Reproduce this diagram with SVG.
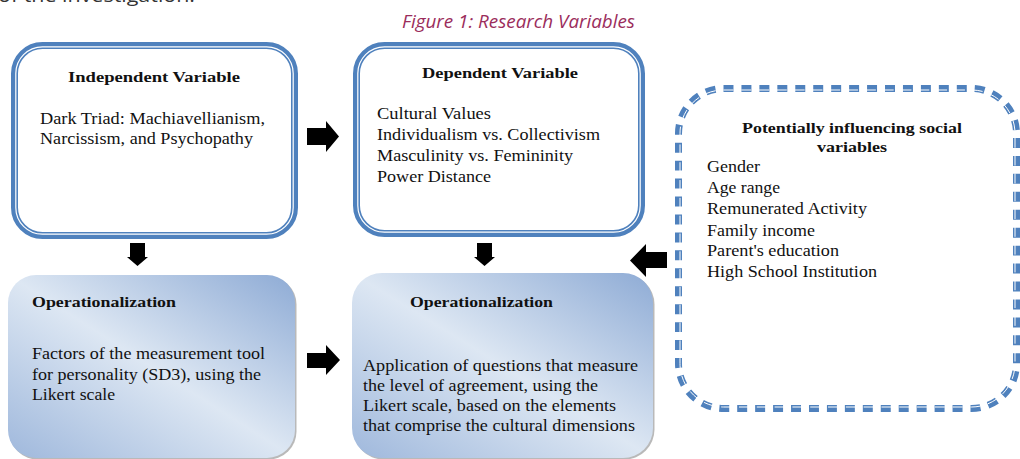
<svg xmlns="http://www.w3.org/2000/svg" width="1020" height="459" viewBox="0 0 1020 459">
<defs>
<linearGradient id="opGrad" x1="1" y1="0" x2="0" y2="1">
<stop offset="0" stop-color="#8eabd5"/>
<stop offset="0.5" stop-color="#dde7f3"/>
<stop offset="1" stop-color="#9fb8dc"/>
</linearGradient>
<style>
.frame{fill:#ffffff;stroke:#4f81bd;stroke-width:7}
.inner{fill:none;stroke:#ffffff;stroke-width:1.2}
.dash{fill:#ffffff;stroke:#4f81bd;stroke-width:7;stroke-dasharray:10 8}
.dashw{fill:none;stroke:#ffffff;stroke-width:1;stroke-dasharray:10 8}
.op{fill:url(#opGrad)}
.shadow{fill:#7f7f7f;opacity:0.55}
.t{font-family:"Liberation Serif","Times New Roman",serif;font-size:16px;fill:#111111}
.b{font-family:"Liberation Serif","Times New Roman",serif;font-size:15.5px;font-weight:bold;fill:#111111}
.cap{font-family:"Open Sans","Noto Sans",sans-serif;font-style:italic;font-size:18px;fill:#9b2d5c}
.top{font-family:"Open Sans","Noto Sans",sans-serif;font-size:19px;fill:#333333}
.arrow{fill:#000000}
</style>
</defs>
<rect x="0" y="0" width="1020" height="459" fill="#ffffff"/>
<text class="top" x="-2" y="2" textLength="197" lengthAdjust="spacingAndGlyphs">of the investigation.</text>
<text class="cap" x="402" y="28" textLength="233" lengthAdjust="spacingAndGlyphs">Figure 1: Research Variables</text>

<g id="node-independent">
<rect class="frame" x="14.5" y="45.5" width="280" height="190" rx="28"/>
<rect class="inner" x="15.8" y="46.8" width="277.4" height="187.4" rx="26.7"/>
<text class="b" x="68" y="82" textLength="172" lengthAdjust="spacingAndGlyphs">Independent Variable</text>
<text class="t" x="40" y="124" textLength="225" lengthAdjust="spacingAndGlyphs">Dark Triad: Machiavellianism,</text>
<text class="t" x="40" y="144" textLength="213" lengthAdjust="spacingAndGlyphs">Narcissism, and Psychopathy</text>
</g>

<g id="node-dependent">
<rect class="frame" x="356.5" y="45.5" width="285" height="188" rx="28"/>
<rect class="inner" x="357.8" y="46.8" width="282.4" height="185.4" rx="26.7"/>
<text class="b" x="422" y="78" textLength="156" lengthAdjust="spacingAndGlyphs">Dependent Variable</text>
<text class="t" x="377" y="119" textLength="114" lengthAdjust="spacingAndGlyphs">Cultural Values</text>
<text class="t" x="377" y="140" textLength="223" lengthAdjust="spacingAndGlyphs">Individualism vs. Collectivism</text>
<text class="t" x="377" y="161" textLength="196" lengthAdjust="spacingAndGlyphs">Masculinity vs. Femininity</text>
<text class="t" x="377" y="182" textLength="114" lengthAdjust="spacingAndGlyphs">Power Distance</text>
</g>

<g id="node-social">
<rect class="dash" x="678.5" y="88.5" width="338" height="320" rx="45" pathLength="1242"/>
<rect class="dashw" x="680" y="90" width="335" height="317" rx="43.5" pathLength="1242"/>
<text class="b" x="742" y="133" textLength="220" lengthAdjust="spacingAndGlyphs">Potentially influencing social</text>
<text class="b" x="817" y="152" textLength="70" lengthAdjust="spacingAndGlyphs">variables</text>
<text class="t" x="707" y="172" textLength="53" lengthAdjust="spacingAndGlyphs">Gender</text>
<text class="t" x="707" y="193" textLength="73" lengthAdjust="spacingAndGlyphs">Age range</text>
<text class="t" x="707" y="214" textLength="160" lengthAdjust="spacingAndGlyphs">Remunerated Activity</text>
<text class="t" x="707" y="236" textLength="108" lengthAdjust="spacingAndGlyphs">Family income</text>
<text class="t" x="707" y="256" textLength="132" lengthAdjust="spacingAndGlyphs">Parent's education</text>
<text class="t" x="707" y="277" textLength="170" lengthAdjust="spacingAndGlyphs">High School Institution</text>
</g>

<g id="node-op-personality">
<rect class="shadow" x="9.5" y="276.5" width="287" height="183" rx="28"/>
<rect class="op" x="8" y="275" width="287" height="183" rx="28"/>
<text class="b" x="32" y="307" textLength="144" lengthAdjust="spacingAndGlyphs">Operationalization</text>
<text class="t" x="32" y="359" textLength="233" lengthAdjust="spacingAndGlyphs">Factors of the measurement tool</text>
<text class="t" x="32" y="380" textLength="229" lengthAdjust="spacingAndGlyphs">for personality (SD3), using the</text>
<text class="t" x="32" y="400" textLength="83" lengthAdjust="spacingAndGlyphs">Likert scale</text>
</g>

<g id="node-op-culture">
<rect class="shadow" x="353.5" y="274.5" width="301" height="185" rx="30"/>
<rect class="op" x="352" y="273" width="301" height="185" rx="30"/>
<text class="b" x="410" y="307" textLength="143" lengthAdjust="spacingAndGlyphs">Operationalization</text>
<text class="t" x="363" y="371" textLength="275" lengthAdjust="spacingAndGlyphs">Application of questions that measure</text>
<text class="t" x="363" y="391" textLength="235" lengthAdjust="spacingAndGlyphs">the level of agreement, using the</text>
<text class="t" x="363" y="411" textLength="253" lengthAdjust="spacingAndGlyphs">Likert scale, based on the elements</text>
<text class="t" x="363" y="431" textLength="272" lengthAdjust="spacingAndGlyphs">that comprise the cultural dimensions</text>
</g>

<g id="connectors">
<polygon class="arrow" points="307,128 326,128 326,121 339,136.5 326,152 326,145 307,145"/>
<polygon class="arrow" points="307,353 326,353 326,345 340,360 326,375 326,368 307,368"/>
<polygon class="arrow" points="130,243 145,243 145,257 148,257 137.5,266 127,257 130,257"/>
<polygon class="arrow" points="477,243 492,243 492,257 495,257 484.5,266 474,257 477,257"/>
<polygon class="arrow" points="667,252 646,252 646,244 630,260.5 646,277 646,268 667,268"/>
</g>
</svg>
